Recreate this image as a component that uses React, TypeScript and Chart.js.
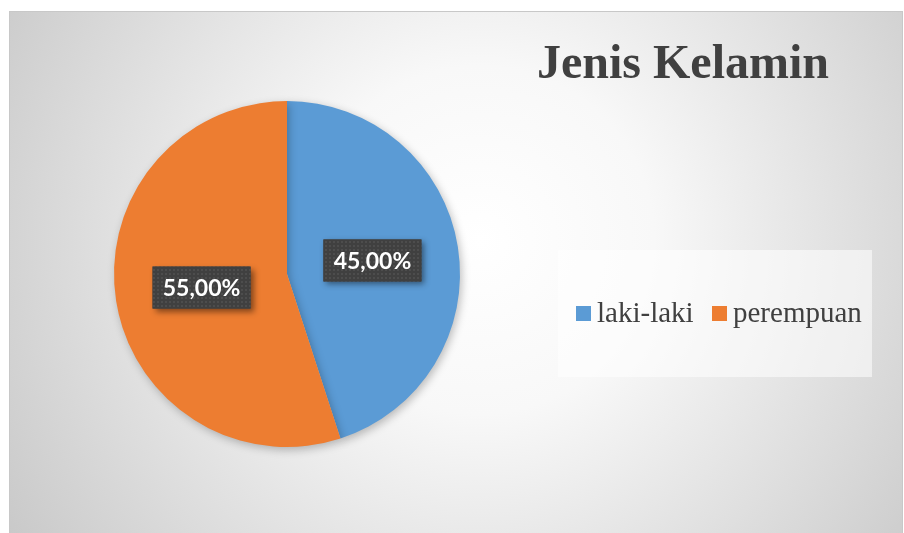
import React, { useEffect, useRef } from "react";
import { Chart, registerables } from "chart.js";

Chart.register(...registerables);

const chartTitle = "Jenis Kelamin";
const categories = ["laki-laki", "perempuan"];
const values = [45, 55];
const valueLabels = ["45,00%", "55,00%"];
const colors = ["#5B9BD5", "#ED7D31"];

function makePattern(ctx: CanvasRenderingContext2D) {
  const c = document.createElement("canvas");
  c.width = 4;
  c.height = 4;
  const p = c.getContext("2d")!;
  p.fillStyle = "#404040";
  p.fillRect(0, 0, 4, 4);
  p.fillStyle = "#4d4d4d";
  p.fillRect(1, 1, 2, 2);
  return ctx.createPattern(c, "repeat")!;
}

const bgPlugin = {
  id: "bgPlugin",
  beforeDraw(chart: any) {
    const ctx: CanvasRenderingContext2D = chart.ctx;
    const W = chart.width;
    const H = chart.height;
    ctx.save();
    ctx.fillStyle = "#ffffff";
    ctx.fillRect(0, 0, W, H);
    const g = ctx.createRadialGradient(480, 240, 0, 480, 240, 580);
    g.addColorStop(0, "#ffffff");
    g.addColorStop(0.3, "#f8f8f8");
    g.addColorStop(1, "#c6c6c6");
    ctx.fillStyle = g;
    ctx.fillRect(9, 11, 894, 522);
    ctx.strokeStyle = "#c8c8c8";
    ctx.lineWidth = 1;
    ctx.strokeRect(9.5, 11.5, 893, 530);
    // title
    ctx.fillStyle = "#404040";
    ctx.font = "bold 48px 'Liberation Serif', 'Times New Roman', serif";
    ctx.textAlign = "center";
    ctx.textBaseline = "alphabetic";
    ctx.fillText(chartTitle, 683, 78);
    // legend box
    ctx.fillStyle = "rgba(255,255,255,0.55)";
    ctx.fillRect(558, 250, 314, 127);
    const legendX = [576, 712];
    ctx.font = "29px 'Liberation Serif', 'Times New Roman', serif";
    ctx.textAlign = "left";
    categories.forEach((cat, i) => {
      ctx.fillStyle = colors[i];
      ctx.fillRect(legendX[i], 306, 15, 15);
      ctx.fillStyle = "#404040";
      ctx.fillText(cat, legendX[i] + 21, 322);
    });
    ctx.restore();
  },
  beforeDatasetsDraw(chart: any) {
    const ctx: CanvasRenderingContext2D = chart.ctx;
    ctx.save();
    ctx.shadowColor = "rgba(0,0,0,0.25)";
    ctx.shadowBlur = 8;
    ctx.shadowOffsetX = 2;
    ctx.shadowOffsetY = 3;
  },
  afterDatasetsDraw(chart: any) {
    const ctx: CanvasRenderingContext2D = chart.ctx;
    ctx.restore();
    const meta = chart.getDatasetMeta(0);
    const pattern = makePattern(ctx);
    meta.data.forEach((arc: any, i: number) => {
      const { x, y, startAngle, endAngle, outerRadius } = arc.getProps(
        ["x", "y", "startAngle", "endAngle", "outerRadius"],
        true
      );
      const mid = (startAngle + endAngle) / 2;
      const r = outerRadius * 0.5;
      const cx = x + Math.cos(mid) * r;
      const cy = y + Math.sin(mid) * r;
      const w = 98;
      const h = 42;
      ctx.save();
      ctx.shadowColor = "rgba(0,0,0,0.45)";
      ctx.shadowBlur = 6;
      ctx.shadowOffsetX = 3;
      ctx.shadowOffsetY = 3;
      ctx.fillStyle = "#404040";
      ctx.fillRect(cx - w / 2, cy - h / 2, w, h);
      ctx.restore();
      ctx.save();
      ctx.fillStyle = pattern;
      ctx.fillRect(cx - w / 2, cy - h / 2, w, h);
      ctx.fillStyle = "#ffffff";
      ctx.font = "bold 23px Lato, 'Open Sans', sans-serif";
      ctx.textAlign = "center";
      ctx.textBaseline = "middle";
      ctx.fillText(valueLabels[i], cx, cy + 1);
      ctx.restore();
    });
  },
};

export default function App() {
  const ref = useRef<HTMLCanvasElement>(null);
  useEffect(() => {
    const chart = new Chart(ref.current!, {
      type: "pie",
      data: {
        labels: categories,
        datasets: [
          {
            data: values,
            backgroundColor: colors,
            borderWidth: 0,
          },
        ],
      },
      options: {
        responsive: false,
        animation: false,
        layout: { padding: { left: 114, right: 444, top: 101, bottom: 86 } },
        plugins: {
          legend: { display: false },
          tooltip: { enabled: false },
          title: { display: false },
        },
      },
      plugins: [bgPlugin],
    });
    return () => chart.destroy();
  }, []);
  return (
    <div style={{ position: "fixed", left: 0, top: 0, width: 904, height: 533 }}>
      <canvas ref={ref} width={904} height={533} />
    </div>
  );
}
